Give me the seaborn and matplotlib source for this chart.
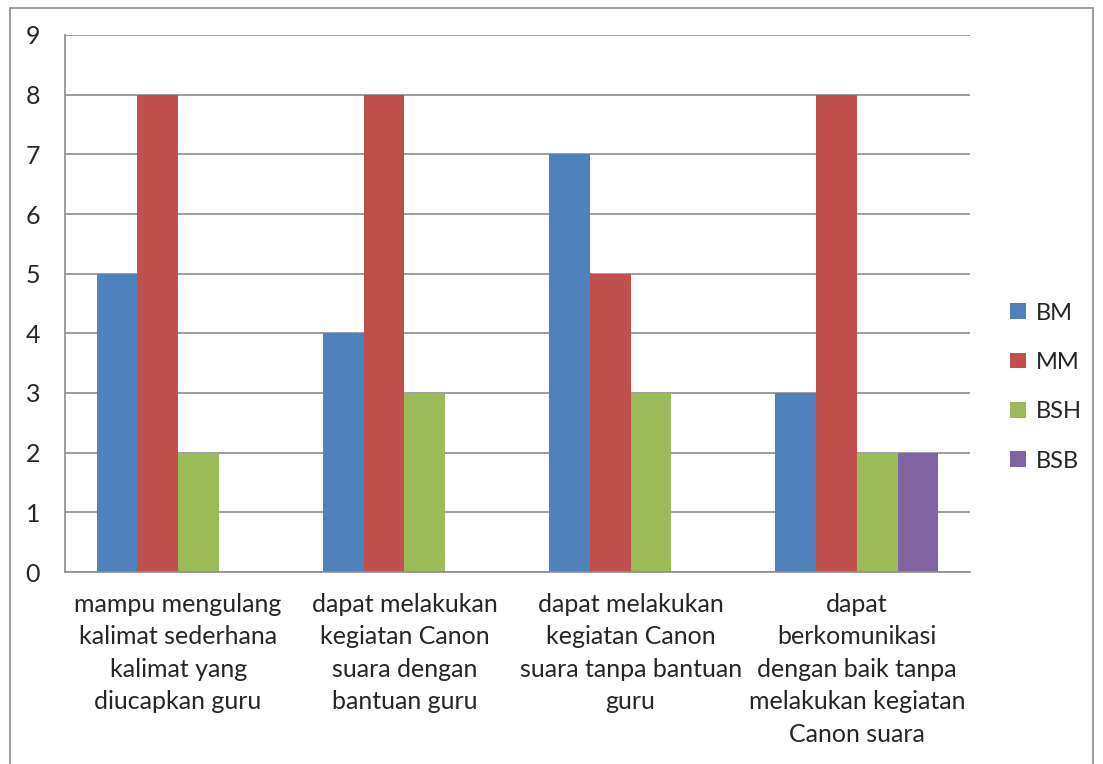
import matplotlib
matplotlib.use("Agg")
import matplotlib.pyplot as plt
import seaborn as sns
import pandas as pd
from matplotlib.patches import Rectangle, Patch

categories = [
    "mampu mengulang\nkalimat sederhana\nkalimat yang\ndiucapkan guru",
    "dapat melakukan\nkegiatan Canon\nsuara dengan\nbantuan guru",
    "dapat melakukan\nkegiatan Canon\nsuara tanpa bantuan\nguru",
    "dapat\nberkomunikasi\ndengan baik tanpa\nmelakukan kegiatan\nCanon suara",
]
series = ["BM", "MM", "BSH", "BSB"]
bm = [5, 4, 7, 3]
mm = [8, 8, 5, 8]
bsh = [2, 3, 3, 2]
bsb = [0, 0, 0, 2]
colors = ["#4F81BD", "#C0504D", "#9BBB59", "#8064A2"]

rows = []
for s, vals in zip(series, [bm, mm, bsh, bsb]):
    for c, v in zip(categories, vals):
        rows.append({"cat": c, "series": s, "value": v})
df = pd.DataFrame(rows)

sns.set_style("white")
plt.rcParams["font.family"] = ["Lato", "DejaVu Sans"]

fig = plt.figure(figsize=(11.03, 7.64), dpi=100)
ax = fig.add_axes([65/1103, 1-572/764, (970-65)/1103, (572-35)/764])

sns.barplot(data=df, x="cat", y="value", hue="series", hue_order=series,
            palette=colors, width=0.72, gap=0, ax=ax, legend=False,
            saturation=1, edgecolor="none", linewidth=0)

ax.set_ylim(0, 9)
ax.set_xlim(-0.5, 3.5)
ax.set_yticks(range(0, 10))
ax.yaxis.grid(True, color="#8c8c8c", linewidth=1.2)
ax.set_axisbelow(True)
for sp in ["top", "right"]:
    ax.spines[sp].set_visible(False)
for sp in ["left", "bottom"]:
    ax.spines[sp].set_color("#8c8c8c")
    ax.spines[sp].set_linewidth(1.2)
ax.set_xlabel("")
ax.set_ylabel("")
ax.set_xticks([0, 1, 2, 3])
ax.set_xticklabels(categories, fontsize=18, linespacing=1.5)
ax.set_xticks([-0.5, 0.5, 1.5, 2.5, 3.5], minor=True)
ax.tick_params(axis="x", which="major", length=0, pad=15)
ax.tick_params(axis="x", which="minor", length=6, color="#8c8c8c", width=1.2, direction="out")
ax.tick_params(axis="y", length=6, color="#8c8c8c", width=1.2, labelsize=18, pad=12)
for t in ax.get_xticklabels():
    t.set_verticalalignment("top")
    t.set_horizontalalignment("center")

handles = [Patch(facecolor=c, edgecolor="none") for c in colors]
fig.legend(handles, series, loc="center left", bbox_to_anchor=(989/1103, 1-387/764),
           frameon=False, fontsize=17, handlelength=0.65, handleheight=0.65,
           handletextpad=0.45, labelspacing=1.2)

fig.patches.append(Rectangle((10/1103, -0.05), (1093-10)/1103, 1.05-8/764,
                             transform=fig.transFigure, fill=False,
                             edgecolor="#8c8c8c", linewidth=1.2))

fig.savefig("out.png", dpi=100)
